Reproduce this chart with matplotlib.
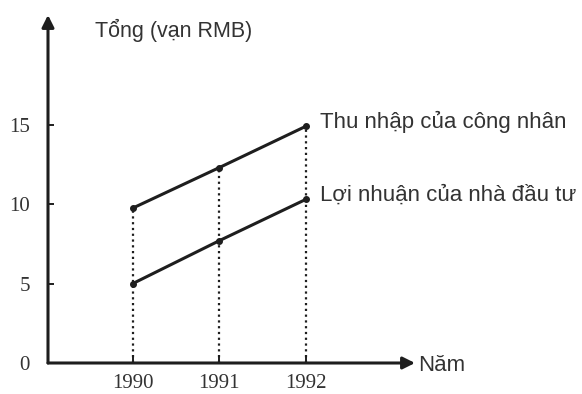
import matplotlib
matplotlib.use("Agg")
import matplotlib.pyplot as plt

# data
years = [1990, 1991, 1992]
income = [9.75, 12.3, 14.9]     # Thu nhap cua cong nhan
profit = [5.0, 7.7, 10.3]       # Loi nhuan cua nha dau tu
yticks = [0, 5, 10, 15]

ink = "#1e1e1e"

fig = plt.figure(figsize=(5.82, 3.94), dpi=100)
W, H = 582, 394
ax = fig.add_axes([48 / W, 1 - 363 / H, (415 - 48) / W, (363 - 15) / H])

ax.set_xlim(1989.02, 1993.26)
ax.set_ylim(0, 21.9)

for s in ax.spines.values():
    s.set_visible(False)

# axes with arrow heads
ax.annotate("", xy=(0, 1), xytext=(0, 0), xycoords="axes fraction",
            arrowprops=dict(arrowstyle="-|>", color=ink, lw=2.2,
                            mutation_scale=18, shrinkA=0, shrinkB=0))
ax.annotate("", xy=(1, 0), xytext=(0, 0), xycoords="axes fraction",
            arrowprops=dict(arrowstyle="-|>", color=ink, lw=2.2,
                            mutation_scale=18, shrinkA=0, shrinkB=0))

# dotted drop lines
for x, top in zip(years, income):
    ax.plot([x, x], [0, top], color=ink, lw=1.6, ls=(0, (1.0, 1.6)))

ax.plot(years, income, color=ink, lw=2.2, marker="o", ms=4)
ax.plot(years, profit, color=ink, lw=2.2, marker="o", ms=4)

ax.set_xticks(years)
ax.set_yticks(yticks)
ax.tick_params(axis="both", direction="in", length=4, width=1.4, color=ink,
               labelcolor="#333333", labelsize=15)
ax.tick_params(axis="y", pad=13)
ax.tick_params(axis="x", pad=8)
for lab in ax.get_xticklabels() + ax.get_yticklabels():
    lab.set_family("Liberation Serif")

txt = dict(color="#333333", family="Liberation Sans", clip_on=False)
ax.text(1992.16, income[-1] + 0.3, "Thu nhập của công nhân", va="center",
        fontsize=16, **txt)
ax.text(1992.16, profit[-1] + 0.25, "Lợi nhuận của nhà đầu tư", va="center",
        fontsize=16, **txt)
ax.text(1989.56, 20.9, "Tổng (vạn RMB)", va="center", fontsize=15.5, **txt)
ax.text(1993.3, -0.15, "Năm", va="center", fontsize=16, **txt)

fig.savefig("out.png", dpi=100)
